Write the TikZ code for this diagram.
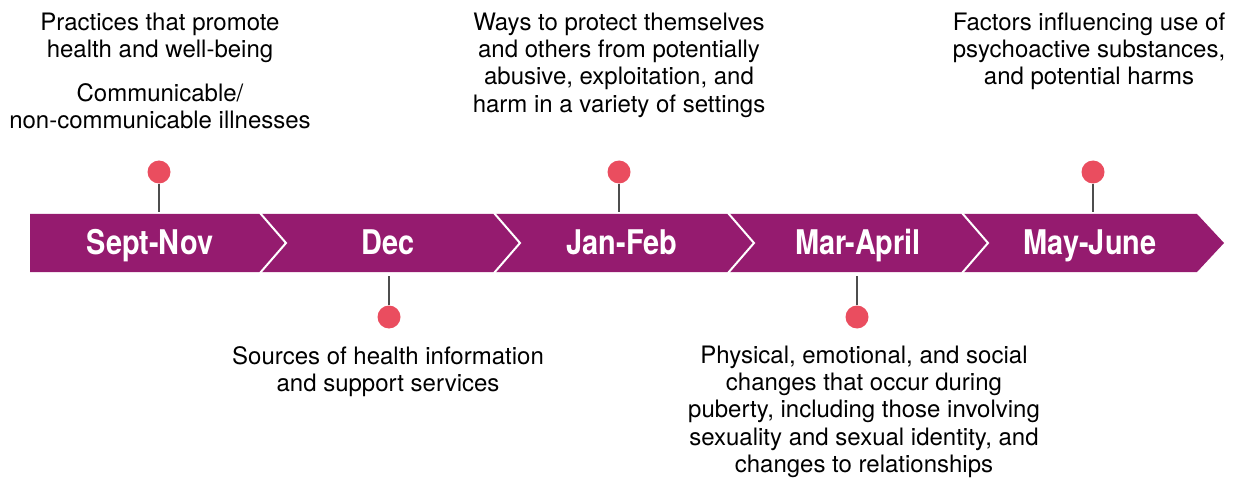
\documentclass[tikz,border=0pt]{standalone}
\usepackage{fontspec}
\setmainfont{TeX Gyre Heros}
\newfontfamily\bandfont[FakeStretch=0.85]{TeX Gyre Heros}
\definecolor{plum}{HTML}{951B6F}
\definecolor{pin}{HTML}{EA4D5F}
\definecolor{stem}{HTML}{4D4D4D}
\tikzset{
  lbl/.style={text=white, inner sep=0, anchor=base, font=\bandfont\bfseries\fontsize{34}{34}\selectfont},
  pindot/.style={circle, fill=pin, minimum size=23pt, inner sep=0},
  pinline/.style={draw=stem, line width=1.3pt},
  topic/.style={align=center, inner sep=0, anchor=north, font=\fontsize{24}{27.3}\selectfont},
}
\begin{document}
\begin{tikzpicture}[x=1pt, y=-1pt]
                \useasboundingbox (0,0) rectangle (1242,481);
                \fill [plum] (30,214) -- (1197,214) -- (1224,243) -- (1197,272) -- (30,272) -- cycle;
                \foreach \x in {260,494,728,962}
                        \draw [white, line width=2pt] (\x,213) -- (\x+26,243) -- (\x,273);
                \coordinate (t) at (0,212);
                \coordinate (b) at (0,276);
                \node [lbl] (0) at (150,254.5) {Sept-Nov};
                \node [lbl] (1) at (388,254.5) {Dec};
                \node [lbl] (2) at (622,254.5) {Jan-Feb};
                \node [lbl] (3) at (858,254.5) {Mar-April};
                \node [lbl] (4) at (1090,254.5) {May-June};
                \node [pindot] (5) at (159,172) {};
                \node [pindot] (6) at (389,317) {};
                \node [pindot] (7) at (619,172) {};
                \node [pindot] (8) at (857,317) {};
                \node [pindot] (9) at (1093,172) {};
                \draw [pinline] (5) -- (5 |- t);
                \draw [pinline] (6) -- (6 |- b);
                \draw [pinline] (7) -- (7 |- t);
                \draw [pinline] (8) -- (8 |- b);
                \draw [pinline] (9) -- (9 |- t);
                \node [topic] (10) at (160,12.5) {Practices that promote\\health and well-being};
                \node [topic] (11) at (160,83.5) {Communicable/\\non-communicable illnesses};
                \node [topic] (12) at (619,12.5) {Ways to protect themselves\\and others from potentially\\abusive, exploitation, and\\harm in a variety of settings};
                \node [topic] (13) at (1089,12.5) {Factors influencing use of\\psychoactive substances,\\and potential harms};
                \node [topic] (14) at (388,346.5) {Sources of health information\\and support services};
                \node [topic] (15) at (864,345.5) {Physical, emotional, and social\\changes that occur during\\puberty, including those involving\\sexuality and sexual identity, and\\changes to relationships};
\end{tikzpicture}
\end{document}
